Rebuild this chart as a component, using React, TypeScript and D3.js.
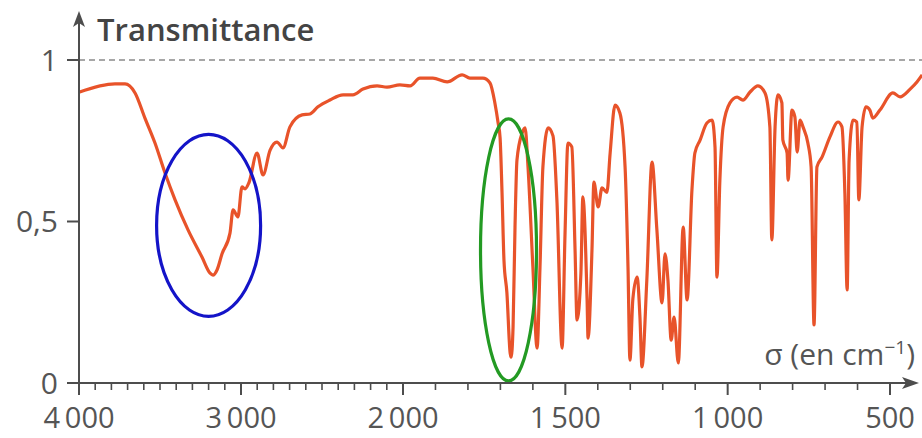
import React from 'react';
import * as d3 from 'd3';

// IR spectrum: wavenumber (cm-1) and transmittance
const wavenumbers = [
  4000, 3778, 3716, 3654, 3593, 3531, 3469, 3407, 3327, 3241, 3191, 3173, 3148, 3117, 3068,
  3049, 3019, 2994, 2975, 2951, 2901, 2864, 2821, 2778, 2741, 2698, 2623, 2574, 2525, 2451,
  2370, 2309, 2247, 2160, 2099, 2019,
  1978, 1948, 1908, 1864, 1818, 1794, 1754, 1732, 1717, 1707, 1701, 1695, 1689, 1680, 1670,
  1667, 1661, 1655, 1649, 1633, 1624, 1615, 1600, 1587, 1578, 1569, 1553, 1538, 1526, 1510,
  1501, 1492, 1480, 1470, 1464, 1452, 1446, 1433, 1430, 1418, 1412, 1399, 1387, 1372, 1362,
  1347, 1332, 1316, 1307, 1301, 1292, 1279, 1270, 1264, 1249, 1233, 1218, 1202, 1193, 1184,
  1174, 1165, 1152, 1137, 1125, 1110, 1101, 1085, 1064, 1048, 1039, 1033, 1024, 1014, 993,
  971, 953, 931, 907, 885, 870, 864, 854, 845, 833, 830, 817, 814, 802, 793,
  786, 777, 768, 753, 743, 734, 725, 709, 685, 660, 648, 639, 632, 626, 614,
  602, 596, 586, 574, 562, 553, 531, 491, 469, 438, 417, 401,
];
const transmittance = [
  0.9, 0.926, 0.926, 0.898, 0.82, 0.743, 0.65, 0.567, 0.474, 0.39, 0.34, 0.334, 0.35, 0.4, 0.464,
  0.536, 0.514, 0.607, 0.601, 0.62, 0.712, 0.644, 0.72, 0.746, 0.728, 0.793, 0.83, 0.833, 0.855, 0.876,
  0.892, 0.892, 0.91, 0.92, 0.916, 0.923,
  0.92, 0.944, 0.944, 0.932, 0.954, 0.944, 0.944, 0.929, 0.867, 0.805, 0.76, 0.59, 0.38, 0.28, 0.093,
  0.08, 0.173, 0.483, 0.69, 0.774, 0.79, 0.67, 0.36, 0.108, 0.36, 0.67, 0.79, 0.765, 0.567, 0.108,
  0.46, 0.743, 0.731, 0.41, 0.195, 0.34, 0.576, 0.257, 0.139, 0.41, 0.622, 0.545, 0.604, 0.59, 0.712,
  0.86, 0.836, 0.669, 0.36, 0.071, 0.26, 0.328, 0.2, 0.05, 0.319, 0.684, 0.474, 0.248, 0.4, 0.319,
  0.133, 0.204, 0.062, 0.483, 0.257, 0.598, 0.712, 0.752, 0.805, 0.814, 0.731, 0.328, 0.628, 0.793, 0.867,
  0.885, 0.876, 0.901, 0.92, 0.898, 0.793, 0.443, 0.793, 0.892, 0.867, 0.752, 0.712, 0.628, 0.845, 0.824,
  0.715, 0.814, 0.793, 0.743, 0.669, 0.18, 0.669, 0.7, 0.762, 0.808, 0.793, 0.588, 0.288, 0.69, 0.814,
  0.808, 0.567, 0.793, 0.855, 0.845, 0.82, 0.845, 0.898, 0.886, 0.91, 0.932, 0.954,
];

// axis ticks
const xMajorTicks = [4000, 3000, 2000, 1500, 1000, 500];
const xTickLabels = ['4\u2009000', '3\u2009000', '2\u2009000', '1\u2009500', '1\u2009000', '500'];
const yTicks = [0, 0.5, 1];
const yTickLabels = ['0', '0,5', '1'];

// circled absorption bands (centre wavenumber, centre transmittance)
const bandCenters = [3200, 1675];
const bandLevels = [0.488, 0.412];

const width = 922;
const height = 438;
const axisColor = '#4d4d4d';
const textColor = '#555';
const font = '"Open Sans", sans-serif';

export default function App() {
  // the wavenumber axis changes scale at 2000 cm-1, so use a polylinear scale
  const x = d3.scaleLinear().domain([4000, 2000, 500]).range([79, 403, 890]);
  const y = d3.scaleLinear().domain([0, 1]).range([383, 60]);

  const points: [number, number][] = wavenumbers.map((w, i) => [w, transmittance[i]]);
  const line = d3.line<[number, number]>()
    .x(d => x(d[0]))
    .y(d => y(d[1]))
    .curve(d3.curveMonotoneX);

  const minorTicks = d3.range(4000, 499, -100).filter(t => !xMajorTicks.includes(t));
  const x0 = x(4000);
  const y0 = y(0);

  const bandRadii = [[52, 91], [28, 131]];
  const bandColors = ['#1414c8', '#239a23'];

  return (
    <svg width={width} height={height} style={{ position: 'absolute', left: 0, top: 0, background: '#fff' }}>
      {/* reference line at T = 1 */}
      <line x1={x0} x2={width} y1={y(1)} y2={y(1)} stroke="#8a8a8a" strokeWidth={1.6} strokeDasharray="6 4" />

      {/* spectrum */}
      <path d={line(points) ?? ''} fill="none" stroke="#e8532a" strokeWidth={3.2} strokeLinejoin="round" />

      {/* circled bands */}
      {bandCenters.map((c, i) => (
        <ellipse key={c} cx={x(c)} cy={y(bandLevels[i])} rx={bandRadii[i][0]} ry={bandRadii[i][1]}
          fill="none" stroke={bandColors[i]} strokeWidth={3.2} />
      ))}

      {/* y axis with arrow */}
      <line x1={x0} x2={x0} y1={y0 + 12} y2={22} stroke={axisColor} strokeWidth={2} />
      <path d={`M${x0},11 L${x0 + 6},27 L${x0},23 L${x0 - 6},27 Z`} fill={axisColor} />
      {yTicks.map((t, i) => (
        <g key={t}>
          <line x1={x0 - 12} x2={x0} y1={y(t)} y2={y(t)} stroke={axisColor} strokeWidth={2} />
          <text x={58} y={y(t)} dy="0.36em" textAnchor="end" fontFamily={font} fontSize={30} fill={textColor}>
            {yTickLabels[i]}
          </text>
        </g>
      ))}

      {/* x axis with arrow */}
      <line x1={x0 - 12} x2={912} y1={y0} y2={y0} stroke={axisColor} strokeWidth={2} />
      <path d={`M919,${y0} L902,${y0 - 6} L906,${y0} L902,${y0 + 6} Z`} fill={axisColor} />
      {minorTicks.map(t => (
        <line key={t} x1={x(t)} x2={x(t)} y1={y0} y2={y0 + 7} stroke={axisColor} strokeWidth={1.6} />
      ))}
      {xMajorTicks.map((t, i) => (
        <g key={t}>
          <line x1={x(t)} x2={x(t)} y1={y0} y2={y0 + 12} stroke={axisColor} strokeWidth={2} />
          <text x={x(t)} y={428} textAnchor="middle" fontFamily={font} fontSize={29} fill={textColor}>
            {xTickLabels[i]}
          </text>
        </g>
      ))}

      {/* axis titles */}
      <text x={97} y={41} fontFamily={font} fontSize={31} fontWeight={600} fill="#444">Transmittance</text>
      <text x={915} y={365} textAnchor="end" fontFamily={font} fontSize={30} fill={textColor}>
        σ (en cm<tspan fontSize={19} dy={-11}>−1</tspan><tspan dy={11}>)</tspan>
      </text>
    </svg>
  );
}
